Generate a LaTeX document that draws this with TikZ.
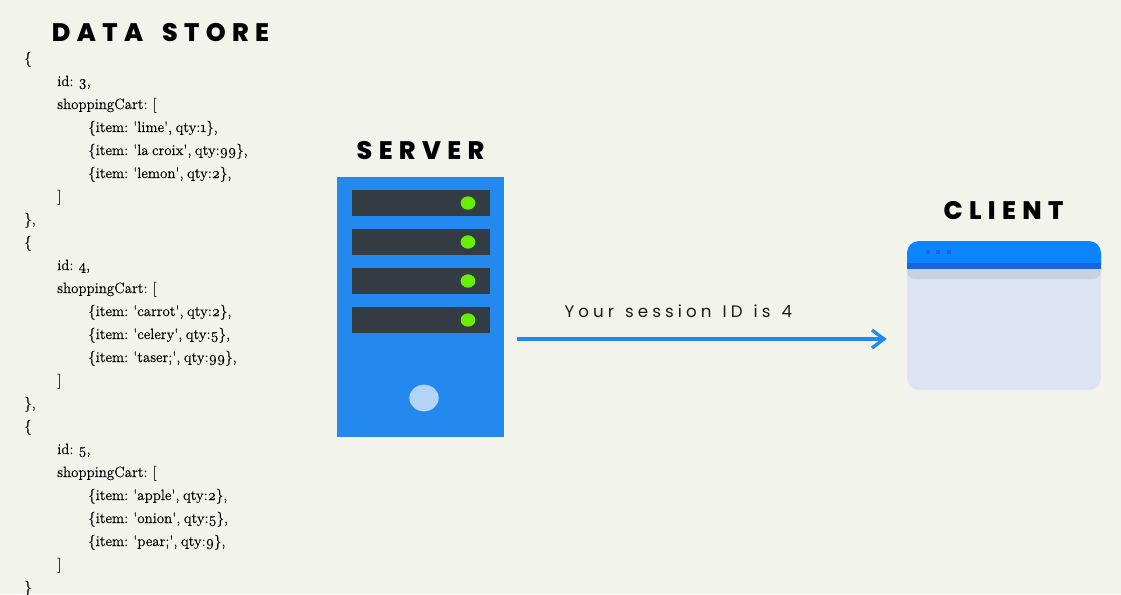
\documentclass[tikz,border=0pt]{standalone}
\usepackage{fontspec}
\usetikzlibrary{arrows.meta,shapes.geometric}
\setmainfont{Latin Modern Roman}[Numbers=OldStyle,WordSpace=0.7,FakeBold=0.25]
\newfontfamily\titlefont[LetterSpace=25,WordSpace=1.7,BoldFont={Poppins ExtraBold}]{Poppins}
\newfontfamily\labelfont[LetterSpace=24.5,WordSpace=1.3]{Poppins}
\newcommand{\sq}{\textquotesingle}
\definecolor{pagebg}{HTML}{F2F4EC}
\definecolor{serverblue}{HTML}{2389EE}
\definecolor{slotgrey}{HTML}{333C43}
\definecolor{ledgreen}{HTML}{68EE02}
\definecolor{knobblue}{HTML}{B3D4F7}
\definecolor{barblue}{HTML}{0A84FF}
\definecolor{banddark}{HTML}{1A63DC}
\definecolor{shadegrey}{HTML}{C8D2E0}
\definecolor{windowbody}{HTML}{DDE3F3}
\tikzset{
    boxtitle/.style={font=\titlefont\fontsize{19}{19}\selectfont\bfseries,inner sep=0pt,anchor=base},
    codeline/.style={font=\fontsize{11.2}{13}\selectfont,text=black,inner sep=0pt,anchor=base west},
    slot/.style={fill=slotgrey,inner sep=0pt,minimum width=103.5pt,minimum height=19.5pt},
    led/.style={ellipse,fill=ledgreen,inner sep=0pt,minimum width=11pt,minimum height=10pt},
    sessionarrow/.style={draw=serverblue,line width=2.5pt,-{Straight Barb[length=9pt,width=13.5pt,line width=2.5pt]}}
}
\begin{document}
\begin{tikzpicture}[x=0.75pt,y=-0.75pt]
            \useasboundingbox (0,0) rectangle (1121,594);
            \fill[pagebg] (0,0) rectangle (1121,594);
            \node[boxtitle] (storetitle) at (160.5,41) {DATA STORE};
            \foreach \xtext/\codetext [count=\i] in {
                24/{\{},
                57/{id: 3,},
                57/{shoppingCart: [},
                88/{\{item: \sq lime\sq, qty:1\},},
                88/{\{item: \sq la croix\sq, qty:99\},},
                88/{\{item: \sq lemon\sq, qty:2\},},
                57/{]},
                24/{\},},
                24/{\{},
                57/{id: 4,},
                57/{shoppingCart: [},
                88/{\{item: \sq carrot\sq, qty:2\},},
                88/{\{item: \sq celery\sq, qty:5\},},
                88/{\{item: \sq taser;\sq, qty:99\},},
                57/{]},
                24/{\},},
                24/{\{},
                57/{id: 5,},
                57/{shoppingCart: [},
                88/{\{item: \sq apple\sq, qty:2\},},
                88/{\{item: \sq onion\sq, qty:5\},},
                88/{\{item: \sq pear;\sq, qty:9\},},
                57/{]},
                24/{\}}}
                \node[codeline] (line\i) at (\xtext,{40+23*\i}) {\codetext};
            \node[boxtitle] (servertitle) at (420.5,159) {SERVER};
            \node[fill=serverblue,inner sep=0pt,minimum width=125.25pt,minimum height=195pt] (server) at (420.5,307) {};
            \foreach \yslot [count=\i] in {203,242,281,320} {
                \node[slot] (slot\i) at (421,\yslot) {};
                \node[led] (led\i) at (468,\yslot) {};
            }
            \node[ellipse,fill=knobblue,inner sep=0pt,minimum width=22pt,minimum height=20pt] (knob) at (424,398) {};
            \node[boxtitle] (clienttitle) at (1003.5,219) {CLIENT};
            \node[fill=windowbody,rounded corners=9pt,inner sep=0pt,minimum width=145.5pt,minimum height=111.75pt] (client) at (1004,315.5) {};
            \fill[shadegrey,rounded corners=6pt] (907,263) -- (907,279) -- (1101,279) [sharp corners] -- (1101,263) -- cycle;
            \fill[barblue] (907,265) -- (907,253) [rounded corners=9pt] -- (907,241) -- (1101,241) [sharp corners] -- (1101,265) -- cycle;
            \fill[banddark] (907,263) rectangle (1101,269);
            \foreach \xdot in {928,938,949}
                \fill[banddark] (\xdot-2,250) rectangle (\xdot+2,254);
            \draw[sessionarrow] ([shift={(13,32)}]server.east) -- node[pos=0.436,above=15pt,font=\labelfont\fontsize{12.5}{12.5}\selectfont,text=black!90,inner sep=0pt] (sessionlabel) {Your session ID is 4} ([shift={(-20,23.5)}]client.west);
        \end{tikzpicture}
\end{document}
